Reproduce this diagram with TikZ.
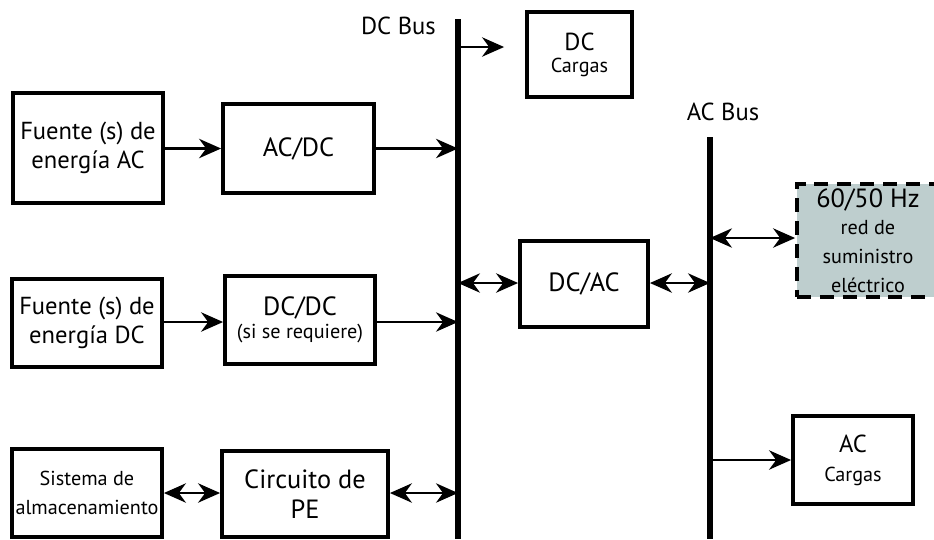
\documentclass[tikz,border=0pt]{standalone}
\usepackage{fontspec}
\setmainfont{PT Sans}
\usetikzlibrary{arrows.meta, positioning, calc}
\definecolor{mygrid}{RGB}{190,206,206}
\newcommand{\subtxt}{\fontsize{11.5}{15}\selectfont}
\tikzset{
  block/.style={rectangle, draw=black, line width=2.2pt, align=center,
    font=\fontsize{14}{16.5}\selectfont, inner sep=2pt},
  gridblock/.style={block, fill=mygrid, dash pattern=on 8pt off 5pt},
  lbl/.style={font=\fontsize{14}{16.5}\selectfont},
  bus/.style={line width=3.6pt},
  arrow/.style={-{Stealth[length=12.5pt,width=11pt,inset=4pt]}, line width=1.3pt},
  biarrow/.style={{Stealth[length=12.5pt,width=11pt,inset=4pt]}-{Stealth[length=12.5pt,width=11pt,inset=4pt]}, line width=1.3pt}
}

\begin{document}
\begin{tikzpicture}[x=0.02cm, y=-0.02cm]
  \useasboundingbox (0,0) rectangle (934,539);

  % Buses
  \coordinate (dctop) at (458,19);
  \coordinate (dcbot) at (458,539);
  \coordinate (actop) at (710,137);
  \coordinate (acbot) at (710,539);
  \draw[bus] (dctop) -- (dcbot);
  \draw[bus] (actop) -- (acbot);
  \node[lbl, anchor=east] (dclabel) at (442,26) {DC Bus};
  \node[lbl] (aclabel) at (723,112) {AC Bus};

  % Sources and converters on the DC side
  \node[block, minimum width=3cm, minimum height=2.2cm] (srcac) at (88,148) {Fuente (s) de\\energía AC};
  \node[block, minimum width=3.02cm, minimum height=1.78cm, font=\fontsize{15}{17}\selectfont] (acdc) at (298.5,148.5) {AC/DC};
  \node[block, minimum width=3cm, minimum height=1.76cm] (srcdc) at (87,323) {Fuente (s) de\\energía DC};
  \node[block, minimum width=3cm, minimum height=1.76cm, font=\fontsize{15}{17}\selectfont] (dcdc) at (300,320) {DC/DC\\[-4pt]\subtxt(si se requiere)};
  \node[block, minimum width=3cm, minimum height=1.76cm] (storage) at (87,493) {\subtxt Sistema de\\\subtxt almacenamiento};
  \node[block, minimum width=3.32cm, minimum height=1.72cm, font=\fontsize{15}{17}\selectfont] (pe) at (305,494) {Circuito de\\PE};

  % Loads, inverter and grid
  \node[block, minimum width=2.1cm, minimum height=1.7cm] (dcload) at (579.5,54.5) {DC\\[-4pt]\subtxt Cargas};
  \node[block, minimum width=2.56cm, minimum height=1.72cm, font=\fontsize{15}{17}\selectfont] (dcac) at (584,284) {DC/AC};
  \node[gridblock, minimum width=2.84cm, minimum height=2.26cm] (grid) at (868,240.5)
    {\fontsize{15}{16}\selectfont 60/50 Hz\\[-1pt]\subtxt red de\\\subtxt suministro\\\subtxt eléctrico};
  \node[block, minimum width=2.4cm, minimum height=1.76cm] (acload) at (853,460) {AC\\\subtxt Cargas};

  % Connections
  \draw[arrow] (srcac.east |- acdc) -- (acdc.west);
  \draw[arrow] (acdc.east) -- (acdc.east -| dctop);
  \draw[arrow] (srcdc.east |- 0,322) -- (dcdc.west |- 0,322);
  \draw[arrow] (dcdc.east |- 0,322) -- (dctop |- 0,322);
  \draw[biarrow] (storage.east) -- (storage.east -| pe.west);
  \draw[biarrow] (pe.east |- storage) -- (dctop |- storage);
  \draw[arrow, shorten >=0.42cm] (dctop |- 0,47) -- (dcload.west |- 0,47);
  \draw[biarrow] (dctop |- 0,283) -- (dcac.west |- 0,283);
  \draw[biarrow] (dcac.east |- 0,283) -- (actop |- 0,283);
  \draw[biarrow] (actop |- 0,238) -- (grid.west |- 0,238);
  \draw[arrow] (actop |- acload) -- (acload.west);
\end{tikzpicture}
\end{document}
